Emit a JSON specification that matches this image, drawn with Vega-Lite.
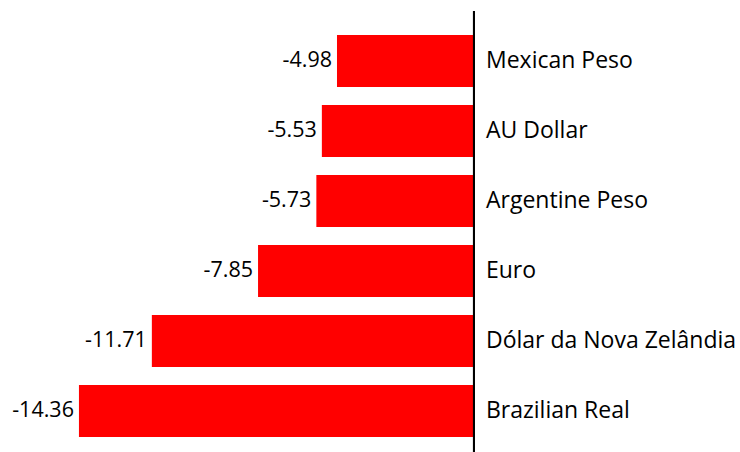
{
  "$schema": "https://vega.github.io/schema/vega-lite/v6.json",
  "width": 740,
  "height": 441,
  "autosize": "none",
  "padding": {"left": 0, "top": 11, "right": 0, "bottom": 0},
  "background": "white",
  "view": {"stroke": null},
  "config": {
    "font": "Open Sans",
    "locale": {"number": {"decimal": ".", "thousands": ",", "grouping": [3], "currency": ["$", ""], "minus": "-"}}
  },
  "data": {
    "values": [
      {"currency": "Mexican Peso", "value": -4.98},
      {"currency": "AU Dollar", "value": -5.53},
      {"currency": "Argentine Peso", "value": -5.73},
      {"currency": "Euro", "value": -7.85},
      {"currency": "Dólar da Nova Zelândia", "value": -11.71},
      {"currency": "Brazilian Real", "value": -14.36}
    ]
  },
  "encoding": {
    "y": {
      "field": "currency",
      "type": "nominal",
      "sort": null,
      "axis": null,
      "scale": {"paddingInner": 0.257, "paddingOuter": 0.279, "align": 0.615}
    }
  },
  "layer": [
    {
      "mark": {"type": "bar", "color": "#ff0000"},
      "encoding": {
        "x": {
          "field": "value",
          "type": "quantitative",
          "axis": null,
          "scale": {"domain": [-17.23, 9.67], "nice": false, "zero": false}
        }
      }
    },
    {
      "mark": {"type": "text", "align": "right", "baseline": "middle", "dx": -5, "fontSize": 21.5, "color": "black"},
      "encoding": {
        "x": {"field": "value", "type": "quantitative"},
        "text": {"field": "value", "type": "quantitative", "format": ".2f"}
      }
    },
    {
      "mark": {"type": "text", "align": "left", "baseline": "middle", "dx": 12, "fontSize": 23, "color": "black"},
      "encoding": {
        "x": {"datum": 0, "type": "quantitative"},
        "text": {"field": "currency", "type": "nominal"}
      }
    },
    {
      "mark": {"type": "rule", "color": "black", "strokeWidth": 2},
      "encoding": {
        "x": {"datum": 0, "type": "quantitative"},
        "y": {"value": 0},
        "y2": {"value": 441}
      }
    }
  ]
}
